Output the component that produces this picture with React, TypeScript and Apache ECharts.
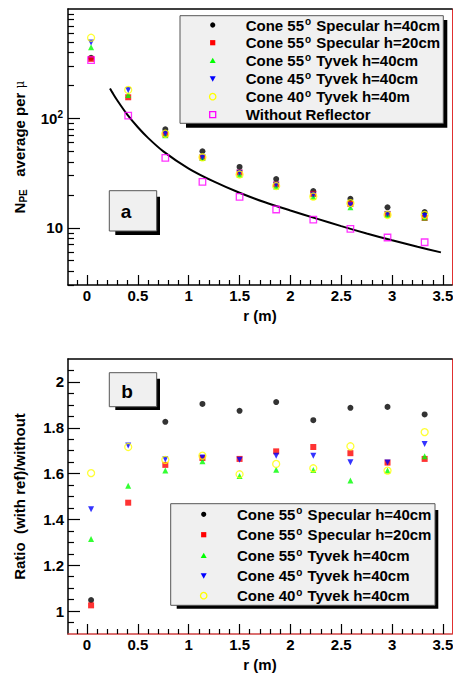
import React, { useEffect, useRef } from "react";
import * as echarts from "echarts";

// ---------------- data ----------------
const rPos = [0.04, 0.405, 0.77, 1.135, 1.5, 1.86, 2.225, 2.59, 2.955, 3.32];

// panel a : N_PE average per muon (null = not visible)
const npeSpec40 = [358, null, 79.5, 50.1, 36.0, 27.9, 21.7, 18.4, 15.4, 13.9];
const npeSpec20 = [350, 156, 71.4, 43.9, 32.0, 24.9, 20.4, 16.5, 13.4, 12.3];
const npeTyv55 = [448, 164, 70.3, 43.5, 30.5, 23.8, 19.2, 15.4, 13.1, 12.4];
const npeTyv45 = [495, 182, 72.5, 43.9, 31.9, 24.7, 20.0, 16.1, 13.4, 12.8];
const npeTyv40 = [546, 182, 72.4, 44.1, 30.7, 24.1, 19.3, 16.8, 13.1, 13.1];
const npeNoRef = [341, 106, 43.6, 26.3, 19.2, 14.7, 11.9, 9.78, 8.15, 7.38];

// fitted curve in panel a
const curveR = [0.226, 0.25, 0.3, 0.4, 0.5, 0.6, 0.75, 1.0, 1.25, 1.5, 1.75, 2.0, 2.25, 2.5, 2.75, 3.0, 3.25, 3.48];
const curveN = [188, 172, 145, 107, 83.0, 66.4, 50.0, 34.8, 26.4, 20.9, 17.1, 14.4, 12.2, 10.35, 8.87, 7.69, 6.7, 5.96];

// panel b : ratio (with ref)/without
const ratioSpec40 = [1.048, null, 1.826, 1.904, 1.874, 1.912, 1.833, 1.887, 1.891, 1.858];
const ratioSpec20 = [1.025, 1.473, 1.638, 1.668, 1.664, 1.697, 1.716, 1.689, 1.648, 1.664];
const ratioTyv55 = [1.315, 1.547, 1.613, 1.654, 1.589, 1.617, 1.616, 1.57, 1.613, 1.676];
const ratioTyv45 = [1.444, 1.723, 1.663, 1.67, 1.66, 1.678, 1.678, 1.649, 1.648, 1.729];
const ratioTyv40 = [1.602, 1.716, 1.66, 1.678, 1.597, 1.642, 1.623, 1.719, 1.613, 1.781];

// ticks
const xMajor = [0, 0.5, 1, 1.5, 2, 2.5, 3, 3.5];
const xMinor = [-0.1, 0.1, 0.2, 0.3, 0.4, 0.6, 0.7, 0.8, 0.9, 1.1, 1.2, 1.3, 1.4, 1.6, 1.7, 1.8, 1.9, 2.1, 2.2, 2.3, 2.4, 2.6, 2.7, 2.8, 2.9, 3.1, 3.2, 3.3, 3.4];
const logMajor = [10, 100];
const logMinor = [3, 4, 5, 6, 7, 8, 9, 20, 30, 40, 50, 60, 70, 80, 90, 200, 300, 400, 500, 600, 700, 800, 900];
const ratioMajor = [1, 1.2, 1.4, 1.6, 1.8, 2];
const ratioMinor = [0.95, 1.05, 1.1, 1.15, 1.25, 1.3, 1.35, 1.45, 1.5, 1.55, 1.65, 1.7, 1.75, 1.85, 1.9, 1.95, 2.05];

// legend labels
const legendA = [
  ["Cone 55", " Specular h=40cm"],
  ["Cone 55", " Specular h=20cm"],
  ["Cone 55", " Tyvek h=40cm"],
  ["Cone 45", " Tyvek h=40cm"],
  ["Cone 40", " Tyvek h=40m"],
  ["Without Reflector", ""],
];
const legendB = [
  ["Cone 55", " Specular h=40cm"],
  ["Cone 55", " Specular h=20cm"],
  ["Cone 55", " Tyvek h=40cm"],
  ["Cone 45", " Tyvek h=40cm"],
  ["Cone 40", " Tyvek h=40cm"],
];

const FF = '"Liberation Sans", Arial, Helvetica, sans-serif';
const X_MIN = -0.187;
const X_MAX = 3.589;

type Mk = { symbol: string; color: string; open: boolean; size: number; rotate: number };
const markers: Mk[] = [
  { symbol: "circle", color: "#000000", open: false, size: 6, rotate: 0 },
  { symbol: "rect", color: "#ff0000", open: false, size: 6, rotate: 0 },
  { symbol: "triangle", color: "#00ff00", open: false, size: 6, rotate: 0 },
  { symbol: "triangle", color: "#0000ff", open: false, size: 6, rotate: 180 },
  { symbol: "circle", color: "#ffff00", open: true, size: 7, rotate: 0 },
  { symbol: "rect", color: "#ff00ff", open: true, size: 6.5, rotate: 0 },
];

function scatter(name: string, xs: number[], ys: (number | null)[], m: Mk, gi: number) {
  const data: number[][] = [];
  xs.forEach((x, i) => {
    const y = ys[i];
    if (y !== null) data.push([x, y]);
  });
  return {
    type: "scatter",
    name,
    xAxisIndex: gi * 3,
    yAxisIndex: gi * 3,
    silent: true,
    symbol: m.symbol,
    symbolSize: m.size,
    symbolRotate: m.rotate,
    data,
    itemStyle: m.open
      ? { color: "rgba(0,0,0,0)", borderColor: m.color, borderWidth: 1.3 }
      : { color: m.color },
    z: 3,
  };
}

function xAxes(gi: number, bottomColor: string) {
  const common = { type: "value", gridIndex: gi, min: X_MIN, max: X_MAX, splitLine: { show: false } };
  return [
    {
      ...common,
      position: "bottom",
      axisLine: { show: true, onZero: false, lineStyle: { color: bottomColor, width: 1.5 } },
      axisTick: { show: true, inside: true, length: 10, customValues: xMajor, lineStyle: { color: "#000", width: 1.2 } },
      axisLabel: {
        show: true,
        customValues: xMajor,
        margin: 3,
        color: "#000",
        fontSize: 15,
        fontWeight: "bold",
        fontFamily: FF,
        formatter: (v: number) => String(v),
      },
      name: "r (m)",
      nameLocation: "middle",
      nameGap: 23,
      nameTextStyle: { color: "#000", fontSize: 15, fontWeight: "bold", fontFamily: FF },
    },
    {
      ...common,
      position: "bottom",
      axisLine: { show: false, onZero: false },
      axisTick: { show: true, inside: true, length: 5, customValues: xMinor, lineStyle: { color: "#000", width: 1.2 } },
      axisLabel: { show: false },
    },
    {
      ...common,
      position: "top",
      axisLine: { show: true, onZero: false, lineStyle: { color: "#000", width: 1.5 } },
      axisTick: { show: false },
      axisLabel: { show: false },
    },
  ];
}

const labelRich = {
  b: { color: "#000", fontSize: 15, fontWeight: "bold", fontFamily: FF, lineHeight: 18 },
  sup: { color: "#000", fontSize: 10, fontWeight: "bold", fontFamily: FF, verticalAlign: "top", lineHeight: 18, padding: [0, 0, 6, 0] },
};

function legendGraphic(
  box: number[],
  shadow: number[],
  mx: number,
  tx: number,
  rows: number[],
  labels: string[][],
) {
  const els: any[] = [
    { type: "rect", silent: true, shape: { x: shadow[0], y: shadow[1], width: shadow[2], height: shadow[3] }, style: { fill: "#000" } },
    { type: "rect", silent: true, shape: { x: box[0], y: box[1], width: box[2], height: box[3] }, style: { fill: "#f0f0f0", stroke: "#555", lineWidth: 1 } },
  ];
  labels.forEach((lab, i) => {
    const cy = rows[i];
    const m = markers[i];
    const s = 2.6;
    if (i === 0) els.push({ type: "circle", silent: true, shape: { cx: mx, cy, r: s }, style: { fill: m.color } });
    if (i === 1) els.push({ type: "rect", silent: true, shape: { x: mx - s, y: cy - s, width: 2 * s, height: 2 * s }, style: { fill: m.color } });
    if (i === 2) els.push({ type: "polygon", silent: true, shape: { points: [[mx, cy - 3], [mx + 3, cy + 2.4], [mx - 3, cy + 2.4]] }, style: { fill: m.color } });
    if (i === 3) els.push({ type: "polygon", silent: true, shape: { points: [[mx, cy + 3], [mx + 3, cy - 2.4], [mx - 3, cy - 2.4]] }, style: { fill: m.color } });
    if (i === 4) els.push({ type: "circle", silent: true, shape: { cx: mx, cy, r: 3.2 }, style: { fill: "none", stroke: m.color, lineWidth: 1.3 } });
    if (i === 5) els.push({ type: "rect", silent: true, shape: { x: mx - 3, y: cy - 3, width: 6, height: 6 }, style: { fill: "none", stroke: m.color, lineWidth: 1.3 } });
    const text = lab[1] === "" ? `{t|${lab[0]}}` : `{t|${lab[0]}}{s|o}{t|${lab[1]}}`;
    els.push({
      type: "text",
      silent: true,
      x: tx,
      y: cy,
      style: {
        text,
        align: "left",
        verticalAlign: "middle",
        rich: {
          t: { fill: "#000", fontSize: 15, fontWeight: "bold", fontFamily: FF, lineHeight: 17 },
          s: { fill: "#000", fontSize: 10, fontWeight: "bold", fontFamily: FF, lineHeight: 17, verticalAlign: "top", padding: [0, 1, 8, 1] },
        },
      },
    });
  });
  return els;
}

function tagBox(box: number[], shadow: number[], letter: string, tx: number, ty: number) {
  return [
    { type: "rect", silent: true, shape: { x: shadow[0], y: shadow[1], width: shadow[2], height: shadow[3] }, style: { fill: "#000" } },
    { type: "rect", silent: true, shape: { x: box[0], y: box[1], width: box[2], height: box[3] }, style: { fill: "#f0f0f0", stroke: "#555", lineWidth: 1 } },
    { type: "text", silent: true, x: tx, y: ty, style: { text: letter, align: "center", verticalAlign: "middle", fill: "#000", fontSize: 19, fontWeight: "bold", fontFamily: FF } },
  ];
}

export default function App() {
  const ref = useRef<HTMLDivElement>(null);
  useEffect(() => {
    if (!ref.current) return;
    const chart = echarts.init(ref.current, null, { renderer: "svg" });
    const yLeftName = {
      nameLocation: "middle",
      nameTextStyle: { color: "#000", fontSize: 15, fontWeight: "bold", fontFamily: FF },
    };
    const option: any = {
      animation: false,
      backgroundColor: "#ffffff",
      grid: [
        { left: 68, top: 9, width: 384, height: 276, outerBoundsMode: "none", containLabel: false },
        { left: 68, top: 359, width: 384, height: 275, outerBoundsMode: "none", containLabel: false },
      ],
      xAxis: [...xAxes(0, "#000"), ...xAxes(1, "#d04040")],
      yAxis: [
        {
          type: "log",
          logBase: 10,
          gridIndex: 0,
          min: 3,
          max: 1000,
          position: "left",
          splitLine: { show: false },
          axisLine: { show: true, onZero: false, lineStyle: { color: "#000", width: 1.5 } },
          axisTick: { show: true, inside: true, length: 12, customValues: logMajor, lineStyle: { color: "#000", width: 1.2 } },
          axisLabel: {
            show: true,
            customValues: logMajor,
            margin: 5,
            formatter: (v: number) => (v >= 99 ? "{b|10}{sup|2}" : "{b|10}"),
            rich: labelRich,
          },
          ...yLeftName,
          name: "{n|N}{sub|PE}{n|   average per }{mu|μ}",
          nameGap: 40,
          nameTextStyle: {
            rich: {
              n: { color: "#000", fontSize: 15, fontWeight: "bold", fontFamily: FF, lineHeight: 17 },
              sub: { color: "#000", fontSize: 10, fontWeight: "bold", fontFamily: FF, verticalAlign: "bottom", lineHeight: 17, padding: [5, 0, 0, 0] },
              mu: { color: "#000", fontSize: 12, fontWeight: "normal", fontFamily: '"DejaVu Serif", serif', lineHeight: 17 },
            },
          },
        },
        {
          type: "log",
          logBase: 10,
          gridIndex: 0,
          min: 3,
          max: 1000,
          position: "left",
          splitLine: { show: false },
          axisLine: { show: false, onZero: false },
          axisTick: { show: true, inside: true, length: 6, customValues: logMinor, lineStyle: { color: "#000", width: 1.2 } },
          axisLabel: { show: false },
        },
        {
          type: "log",
          logBase: 10,
          gridIndex: 0,
          min: 3,
          max: 1000,
          position: "right",
          splitLine: { show: false },
          axisLine: { show: true, onZero: false, lineStyle: { color: "#e03030", width: 1 } },
          axisTick: { show: false },
          axisLabel: { show: false },
        },
        {
          type: "value",
          gridIndex: 1,
          min: 0.9,
          max: 2.1,
          position: "left",
          splitLine: { show: false },
          axisLine: { show: true, onZero: false, lineStyle: { color: "#000", width: 1.5 } },
          axisTick: { show: true, inside: true, length: 12, customValues: ratioMajor, lineStyle: { color: "#000", width: 1.2 } },
          axisLabel: {
            show: true,
            customValues: ratioMajor,
            margin: 4,
            color: "#000",
            fontSize: 15,
            fontWeight: "bold",
            fontFamily: FF,
            formatter: (v: number) => String(v),
          },
          ...yLeftName,
          name: "Ratio  (with ref)/without",
          nameGap: 41,
        },
        {
          type: "value",
          gridIndex: 1,
          min: 0.9,
          max: 2.1,
          position: "left",
          splitLine: { show: false },
          axisLine: { show: false, onZero: false },
          axisTick: { show: true, inside: true, length: 6, customValues: ratioMinor, lineStyle: { color: "#000", width: 1.2 } },
          axisLabel: { show: false },
        },
        {
          type: "value",
          gridIndex: 1,
          min: 0.9,
          max: 2.1,
          position: "right",
          splitLine: { show: false },
          axisLine: { show: true, onZero: false, lineStyle: { color: "#e03030", width: 1 } },
          axisTick: { show: false },
          axisLabel: { show: false },
        },
      ],
      series: [
        {
          type: "line",
          name: "fit",
          xAxisIndex: 0,
          yAxisIndex: 0,
          silent: true,
          smooth: 0.3,
          showSymbol: false,
          symbol: "none",
          data: curveR.map((r, i) => [r, curveN[i]]),
          lineStyle: { color: "#000", width: 2 },
          z: 2,
        },
        scatter("spec40", rPos, npeSpec40, markers[0], 0),
        scatter("spec20", rPos, npeSpec20, markers[1], 0),
        scatter("tyv55", rPos, npeTyv55, markers[2], 0),
        scatter("tyv45", rPos, npeTyv45, markers[3], 0),
        scatter("tyv40", rPos, npeTyv40, markers[4], 0),
        scatter("noref", rPos, npeNoRef, markers[5], 0),
        scatter("r_spec40", rPos, ratioSpec40, markers[0], 1),
        scatter("r_spec20", rPos, ratioSpec20, markers[1], 1),
        scatter("r_tyv55", rPos, ratioTyv55, markers[2], 1),
        scatter("r_tyv45", rPos, ratioTyv45, markers[3], 1),
        scatter("r_tyv40", rPos, ratioTyv40, markers[4], 1),
      ],
      graphic: [
        ...legendGraphic([180, 15.7, 263.3, 107.6], [186, 20, 261.3, 107.7], 212.7, 245.7, [25, 42.7, 60.7, 78.7, 96.7, 114.7], legendA),
        ...legendGraphic([170.7, 503.7, 264.3, 101.6], [176.7, 510, 261.6, 98.7], 203.7, 237, [514.3, 534.7, 555.7, 575.7, 595.7], legendB),
        ...tagBox([109.3, 190.7, 47.4, 40.3], [115.3, 196.7, 44.7, 38.3], "a", 126, 211),
        ...tagBox([109.3, 372.7, 47.4, 34], [115.3, 378.7, 44.7, 31.3], "b", 127, 391),
      ],
    };
    chart.setOption(option);
    return () => chart.dispose();
  }, []);
  return <div ref={ref} style={{ position: "absolute", left: 0, top: 0, width: 453, height: 676 }} />;
}
